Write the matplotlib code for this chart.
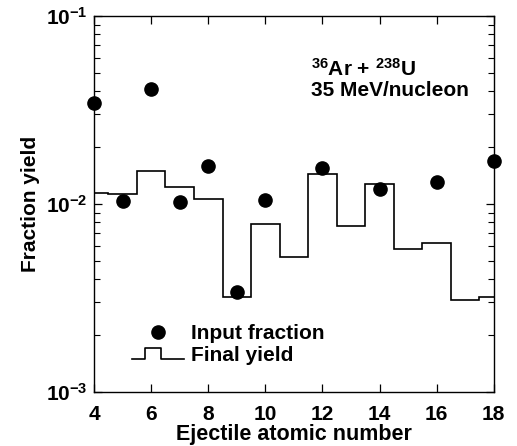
import numpy as np
import matplotlib
matplotlib.use("Agg")
import matplotlib.pyplot as plt
from matplotlib.legend_handler import HandlerBase
from matplotlib.lines import Line2D

plt.rcParams["font.family"] = ["Liberation Sans", "DejaVu Sans"]
plt.rcParams["font.weight"] = "bold"
plt.rcParams["mathtext.fontset"] = "custom"
plt.rcParams["mathtext.rm"] = "Liberation Sans:bold"
plt.rcParams["mathtext.bf"] = "Liberation Sans:bold"
plt.rcParams["mathtext.default"] = "bf"

# Input fraction (points)
z_input = [4, 5, 6, 7, 8, 9, 10, 12, 14, 16, 18]
frac_input = [0.0344, 0.0104, 0.0409, 0.0103, 0.0160, 0.00342, 0.0105,
              0.0156, 0.0120, 0.01315, 0.0169]

# Final yield (histogram, one bin per Z)
z_final = [4, 5, 6, 7, 8, 9, 10, 11, 12, 13, 14, 15, 16, 17, 18]
yield_final = [0.0115, 0.0113, 0.0150, 0.0123, 0.0106, 0.0032, 0.0078,
               0.0052, 0.0144, 0.0076, 0.0128, 0.0058, 0.0062, 0.0031, 0.0032]


class StepHandler(HandlerBase):
    # small step symbol for the legend
    def create_artists(self, legend, orig_handle, xdescent, ydescent,
                       width, height, fontsize, trans):
        x0, x1 = -xdescent, -xdescent + width
        yl = -ydescent + height * 0.1
        yh = -ydescent + height * 0.85
        xs = [x0, x0 + 0.25 * width, x0 + 0.25 * width,
              x0 + 0.57 * width, x0 + 0.57 * width, x1]
        ys = [yl, yl, yh, yh, yl, yl]
        ln = Line2D(xs, ys, color="black", lw=1.2, transform=trans)
        return [ln]


fig = plt.figure(figsize=(5.17, 4.46), dpi=100)
ax = fig.add_axes([0.182, 0.121, 0.773, 0.843])

edges = np.append(np.array(z_final) - 0.5, z_final[-1] + 0.5)
st = ax.stairs(yield_final, edges, color="black", lw=1.2)
pts, = ax.plot(z_input, frac_input, "o", color="black", ms=9.5,
               clip_on=False, zorder=3)

ax.set_yscale("log")
ax.set_xlim(4, 18)
ax.set_ylim(1e-3, 1e-1)
ax.set_xticks(range(4, 19, 2))

ax.tick_params(which="both", direction="in", top=True, right=True)
ax.tick_params(axis="x", labelsize=15, pad=9)
ax.tick_params(axis="y", labelsize=15, pad=5)
ax.tick_params(which="major", length=6, width=0.9)
ax.tick_params(which="minor", length=4, width=0.8)
ax.yaxis.set_minor_formatter(plt.NullFormatter())
for s in ax.spines.values():
    s.set_linewidth(1.0)

ax.set_xlabel("Ejectile atomic number", fontsize=15.5, fontweight="bold",
              labelpad=0)
ax.set_ylabel("Fraction yield", fontsize=15, fontweight="bold",
              labelpad=4)

ax.text(0.543, 0.840, r"$^{36}$Ar + $^{238}$U", transform=ax.transAxes,
        fontsize=15, fontweight="bold", va="baseline")
ax.text(0.543, 0.788, "35 MeV/nucleon", transform=ax.transAxes,
        fontsize=15, fontweight="bold", va="baseline")

leg = ax.legend([pts, st], ["Input fraction", "Final yield"],
                handler_map={type(st): StepHandler()},
                loc="lower left", bbox_to_anchor=(0.068, 0.045),
                frameon=False, fontsize=15, handlelength=2.5,
                handletextpad=0.35, labelspacing=0.12, borderpad=0)
for t in leg.get_texts():
    t.set_fontweight("bold")

fig.savefig("out.png", dpi=100)
